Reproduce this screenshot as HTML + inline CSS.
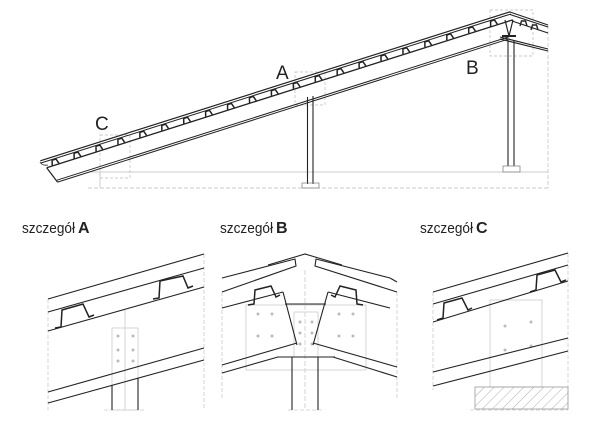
<!DOCTYPE html>
<html><head><meta charset="utf-8"><style>
html,body{margin:0;padding:0;background:#fff;width:600px;height:422px;overflow:hidden}
svg{display:block}
text{font-family:"Liberation Sans",sans-serif}
</style></head><body>
<svg width="600" height="422" viewBox="0 0 600 422" xmlns="http://www.w3.org/2000/svg">
<defs>
<pattern id="h" width="7" height="7" patternUnits="userSpaceOnUse" patternTransform="rotate(45)">
<line x1="0" y1="0" x2="0" y2="7" stroke="#999" stroke-width="0.8"/></pattern>
</defs>

<g stroke="#bbb" stroke-width="0.7" fill="none">
<line x1="90" y1="172" x2="548" y2="172"/>
<line x1="88" y1="188" x2="548" y2="188" stroke-dasharray="4,2"/>
<line x1="548" y1="25" x2="548" y2="188" stroke-dasharray="4,2"/>
<rect x="100" y="135" width="30" height="43" stroke-dasharray="3,2"/>
<rect x="295" y="72" width="30" height="33" stroke-dasharray="3,2"/>
<rect x="490" y="10" width="43" height="46" stroke-dasharray="3,2"/>
<line x1="100" y1="172" x2="100" y2="188"/>
</g>
<g transform="translate(46,159) rotate(-17.6)" stroke="#222" fill="none">
<line x1="-6" y1="0" x2="487" y2="0" stroke-width="1.2"/>
<line x1="-6" y1="2.3" x2="487" y2="2.3" stroke-width="1"/>
<line x1="-2" y1="8.5" x2="487" y2="8.5" stroke-width="1.3"/>
<line x1="4" y1="23.5" x2="478" y2="23.5" stroke-width="1"/>
<line x1="4" y1="25.5" x2="478" y2="25.5" stroke-width="1"/>
<line x1="-2" y1="8.5" x2="4" y2="25.5" stroke-width="1.2"/>
</g>
<g transform="translate(46,159) rotate(-17.6)" fill="none" stroke="#222" stroke-width="1.5">
<path d="M4,8 l1.5,-5 h4 l1.5,5 M27,8 l1.5,-5 h4 l1.5,5 M50,8 l1.5,-5 h4 l1.5,5 M73,8 l1.5,-5 h4 l1.5,5 M96,8 l1.5,-5 h4 l1.5,5 M119,8 l1.5,-5 h4 l1.5,5 M142,8 l1.5,-5 h4 l1.5,5 M165,8 l1.5,-5 h4 l1.5,5 M188,8 l1.5,-5 h4 l1.5,5 M211,8 l1.5,-5 h4 l1.5,5 M234,8 l1.5,-5 h4 l1.5,5 M257,8 l1.5,-5 h4 l1.5,5 M280,8 l1.5,-5 h4 l1.5,5 M303,8 l1.5,-5 h4 l1.5,5 M326,8 l1.5,-5 h4 l1.5,5 M349,8 l1.5,-5 h4 l1.5,5 M372,8 l1.5,-5 h4 l1.5,5 M395,8 l1.5,-5 h4 l1.5,5 M418,8 l1.5,-5 h4 l1.5,5 M441,8 l1.5,-5 h4 l1.5,5 M464,8 l1.5,-5 h4 l1.5,5"/>
</g>
<g stroke="#222" fill="none" stroke-width="1.1">
<line x1="510" y1="12" x2="548" y2="25"/>
<line x1="510" y1="14.5" x2="548" y2="27"/>
<line x1="512" y1="21" x2="548" y2="33"/>
<line x1="500" y1="37" x2="548" y2="49"/>
<line x1="500" y1="39" x2="548" y2="51"/>
<path d="M505,20 L509,36 L513,20" stroke-width="1.2"/>
<path d="M502,36 h14" stroke-width="2"/>
<path d="M531,30 l1.5,-5 h4 l1.5,5 M520,26 l1.5,-5 h4 l1.5,5" stroke-width="1.4"/>
</g>
<g stroke="#222" fill="none" stroke-width="1.1">
<line x1="307.5" y1="97" x2="307.5" y2="184"/><line x1="313" y1="96" x2="313" y2="184"/>
<rect x="302" y="183" width="17" height="5" stroke="#888" stroke-width="0.8"/>
<line x1="508" y1="40" x2="508" y2="166"/><line x1="514" y1="40" x2="514" y2="166"/>
<rect x="503" y="166" width="17" height="6" stroke="#888" stroke-width="0.8"/>
<path d="M40,162 q2,4 8,3" stroke-width="0.8"/>
</g>
<g font-size="19" fill="#222">
<text x="95" y="130">C</text>
<text x="276" y="79">A</text>
<text x="466" y="74">B</text>
</g>

<g font-size="14.5" fill="#222">
<text x="22" y="233" textLength="53" lengthAdjust="spacingAndGlyphs">szczegół</text><text x="78" y="233" font-weight="bold" font-size="16">A</text>
<text x="220" y="233" textLength="53" lengthAdjust="spacingAndGlyphs">szczegół</text><text x="276" y="233" font-weight="bold" font-size="16">B</text>
<text x="420" y="233" textLength="53" lengthAdjust="spacingAndGlyphs">szczegół</text><text x="476" y="233" font-weight="bold" font-size="16">C</text>
</g>

<g stroke="#ccc" stroke-width="0.8" fill="none">
<line x1="48" y1="299" x2="48" y2="410" stroke-dasharray="4,2"/>
<line x1="204" y1="254" x2="204" y2="410" stroke-dasharray="4,2"/>
<rect x="112" y="328" width="26" height="82"/>
<line x1="125" y1="310" x2="125" y2="410"/>
<line x1="104" y1="410" x2="146" y2="410" stroke-dasharray="4,2"/>
</g>
<g fill="#bbb"><circle cx="118" cy="336" r="1.5"/><circle cx="133" cy="336" r="1.5"/><circle cx="118" cy="350" r="1.5"/><circle cx="133" cy="350" r="1.5"/><circle cx="118" cy="361" r="1.5"/><circle cx="133" cy="361" r="1.5"/></g>
<g stroke="#222" stroke-width="1.1" fill="none">
<line x1="48" y1="299" x2="204" y2="254"/>
<line x1="48" y1="312" x2="204" y2="268"/>
<line x1="48" y1="331" x2="204" y2="287"/>
<line x1="48" y1="392" x2="204" y2="348"/>
<line x1="48" y1="403" x2="204" y2="360"/>
<line x1="112" y1="385" x2="112" y2="410"/><line x1="138" y1="378" x2="138" y2="410"/>
<path d="M55,328 L61,327 L62,310 L83,304 L89,317 L94,315" stroke-width="1.5"/>
<path d="M153,299 L159,298 L160,281 L183,276 L188,288 L193,286" stroke-width="1.5"/>
</g>

<g stroke="#ccc" stroke-width="0.8" fill="none">
<line x1="222" y1="292" x2="222" y2="400" stroke-dasharray="4,2"/>
<line x1="397" y1="292" x2="397" y2="400" stroke-dasharray="4,2"/>
<rect x="246" y="305" width="120" height="65"/>
<rect x="294" y="312" width="24" height="45"/>
<line x1="305" y1="270" x2="305" y2="410" stroke-dasharray="5,2"/>
<line x1="288" y1="410" x2="324" y2="410" stroke-dasharray="4,2"/>
</g>
<g fill="#bbb"><circle cx="258" cy="314" r="1.5"/><circle cx="272" cy="314" r="1.5"/><circle cx="258" cy="336" r="1.5"/><circle cx="272" cy="336" r="1.5"/><circle cx="339" cy="314" r="1.5"/><circle cx="353" cy="314" r="1.5"/><circle cx="339" cy="336" r="1.5"/><circle cx="353" cy="336" r="1.5"/><circle cx="300" cy="322" r="1.5"/><circle cx="312" cy="322" r="1.5"/><circle cx="300" cy="333" r="1.5"/><circle cx="312" cy="333" r="1.5"/><circle cx="300" cy="344" r="1.5"/><circle cx="312" cy="344" r="1.5"/></g>
<g stroke="#222" stroke-width="1.1" fill="none">
<path d="M222,278 L295,259 L296,266 L222,292"/>
<path d="M390,278 L316,259 L315,266 L397,292" />
<line x1="397" y1="282" x2="390" y2="278"/>
<path d="M268,265 L305,254 L342,265"/>
<line x1="222" y1="308" x2="283" y2="292"/>
<line x1="283" y1="292" x2="297" y2="345"/>
<line x1="222" y1="365" x2="297" y2="343"/>
<line x1="222" y1="373" x2="278" y2="357"/>
<line x1="390" y1="308" x2="328" y2="292"/>
<line x1="328" y1="292" x2="313" y2="345"/>
<line x1="397" y1="367" x2="313" y2="343"/>
<line x1="397" y1="377" x2="333" y2="357"/>
<line x1="285" y1="304" x2="326" y2="304"/>
<line x1="277" y1="357" x2="335" y2="357"/>
<line x1="292" y1="357" x2="292" y2="410"/><line x1="318" y1="357" x2="318" y2="410"/>
<path d="M248,305 L254,304 L255,290 L271,286 L276,297 L280,295" stroke-width="1.5"/>
<path d="M363,305 L357,304 L356,290 L340,286 L335,297 L331,295" stroke-width="1.5"/>
</g>

<g stroke="#ccc" stroke-width="0.8" fill="none">
<line x1="433" y1="292" x2="433" y2="390" stroke-dasharray="4,2"/>
<line x1="568" y1="253" x2="568" y2="410" stroke-dasharray="4,2"/>
<rect x="490" y="300" width="52" height="87"/>
<line x1="470" y1="410" x2="568" y2="410" stroke-dasharray="4,2"/>
</g>
<g fill="#bbb"><circle cx="505" cy="326" r="1.5"/><circle cx="531" cy="322" r="1.5"/><circle cx="505" cy="350" r="1.5"/><circle cx="531" cy="346" r="1.5"/></g>
<rect x="475" y="387" width="93" height="22" fill="url(#h)" stroke="#999" stroke-width="0.8"/>
<g stroke="#222" stroke-width="1.1" fill="none">
<line x1="433" y1="292" x2="568" y2="253"/>
<line x1="433" y1="304" x2="568" y2="265"/>
<line x1="433" y1="322" x2="568" y2="281"/>
<line x1="433" y1="372" x2="568" y2="338"/>
<line x1="433" y1="386" x2="568" y2="351"/>
<path d="M437,320 L443,318 L444,303 L462,298 L468,310 L472,308" stroke-width="1.5"/>
<path d="M530,292 L536,290 L537,275 L555,270 L561,282 L566,280" stroke-width="1.5"/>
</g>
</svg>
</body></html>
